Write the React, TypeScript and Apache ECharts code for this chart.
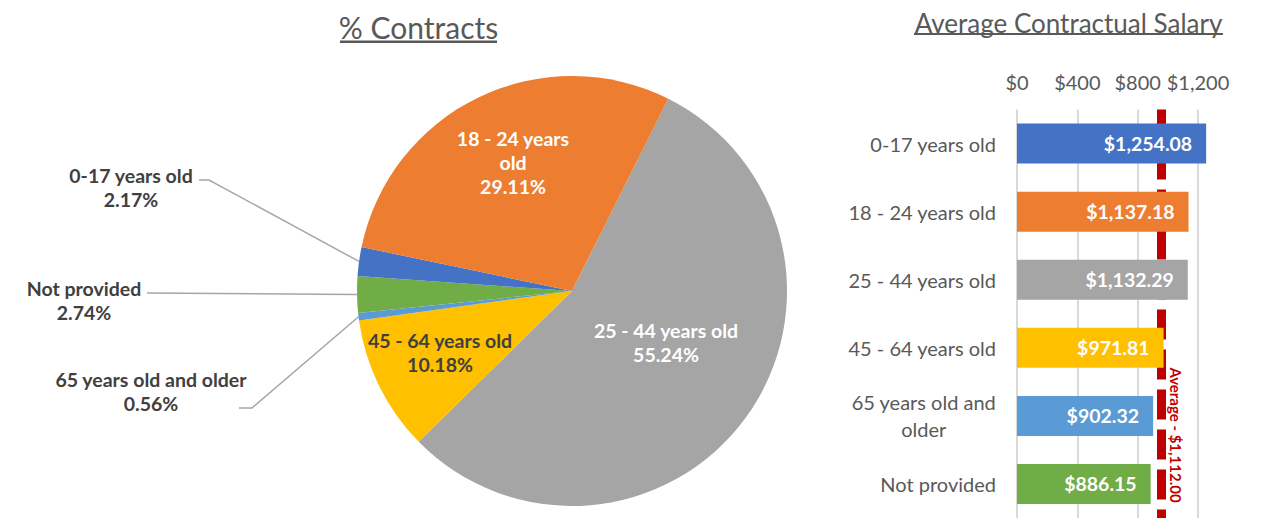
import React, { useEffect, useRef } from 'react';
import * as echarts from 'echarts';

// ---------- Data ----------
// Pie (% Contracts), in clockwise drawing order starting at the orange/gray edge
const pieCategories = [
  '25 - 44 years old',
  '45 - 64 years old',
  '65 years old and older',
  'Not provided',
  '0-17 years old',
  '18 - 24 years old',
];
const pieValues = [55.24, 10.18, 0.56, 2.74, 2.17, 29.11];
const pieColors = ['#A5A5A5', '#FFC000', '#5B9BD5', '#70AD47', '#4472C4', '#ED7D31'];

// Bars (Average Contractual Salary)
const barCategories = [
  '0-17 years old',
  '18 - 24 years old',
  '25 - 44 years old',
  '45 - 64 years old',
  '65 years old and older',
  'Not provided',
];
const barValues = [1254.08, 1137.18, 1132.29, 971.81, 902.32, 886.15];
const barColors = ['#4472C4', '#ED7D31', '#A5A5A5', '#FFC000', '#5B9BD5', '#70AD47'];
const averageSalary = 1112.0;
const salaryAxisMin = 0;
const salaryAxisMax = 1200;
const salaryAxisInterval = 400;
const averageAxisMax = 1400; // secondary (hidden) axis used by the average line

// ---------- Label layout (presentation only) ----------
const pieLabelText: Record<string, string> = {
  '18 - 24 years old': '18 - 24 years\nold',
};
const insideLabels: Record<string, string> = {
  '25 - 44 years old': '#FFFFFF',
  '45 - 64 years old': '#404040',
  '18 - 24 years old': '#FFFFFF',
};
const pieLabelPlacement: Record<string, { x: number; y: number; bend?: number[][] }> = {
  '25 - 44 years old': { x: 666, y: 342 },
  '45 - 64 years old': { x: 440, y: 352 },
  '18 - 24 years old': { x: 513, y: 162 },
  '0-17 years old': { x: 131, y: 187, bend: [[209, 180], [199, 180]] },
  'Not provided': { x: 84, y: 300, bend: [[147, 293]] },
  '65 years old and older': { x: 151, y: 391, bend: [[252, 408], [239, 408]] },
};
const barLabelWrap: Record<string, string[]> = {
  '65 years old and older': ['65 years old and', 'older'],
};

const FONT = 'Lato';
const money = (v: number, digits = 0) =>
  '$' + v.toLocaleString('en-US', { minimumFractionDigits: digits, maximumFractionDigits: digits });

export default function App() {
  const ref = useRef<HTMLDivElement>(null);

  useEffect(() => {
    if (!ref.current) return;
    const chart = echarts.init(ref.current, undefined, { renderer: 'svg' });

    const option: any = {
      animation: false,
      backgroundColor: '#FFFFFF',
      textStyle: { fontFamily: FONT },
      graphic: [
        {
          type: 'text',
          x: 418.5,
          y: 27,
          style: {
            text: '% Contracts',
            fill: '#595959',
            font: `30px ${FONT}`,
            align: 'center',
            verticalAlign: 'middle',
          },
        },
        {
          type: 'rect',
          shape: { x: 340, y: 40.5, width: 157, height: 2.5 },
          style: { fill: '#595959' },
        },
        {
          type: 'text',
          x: 1068.5,
          y: 23,
          style: {
            text: 'Average Contractual Salary',
            fill: '#595959',
            font: `26px ${FONT}`,
            align: 'center',
            verticalAlign: 'middle',
          },
        },
        {
          type: 'rect',
          shape: { x: 914, y: 33, width: 309, height: 2 },
          style: { fill: '#595959' },
        },
        {
          type: 'text',
          x: 1176,
          y: 435,
          rotation: -Math.PI / 2,
          z: 20,
          style: {
            text: 'Average - ' + money(averageSalary, 2),
            fill: '#C00000',
            font: `bold 15px ${FONT}`,
            align: 'center',
            verticalAlign: 'middle',
          },
        },
      ],
      grid: { left: 1017, top: 109.5, width: 181, height: 411, containLabel: false },
      xAxis: [
        {
          type: 'value',
          position: 'top',
          min: salaryAxisMin,
          max: salaryAxisMax,
          interval: salaryAxisInterval,
          axisLine: { show: false },
          axisTick: { show: false },
          splitLine: { lineStyle: { color: '#D9D9D9', width: 2 } },
          axisLabel: {
            formatter: (v: number) => money(v),
            color: '#595959',
            fontSize: 20,
            fontFamily: FONT,
            margin: 18,
          },
        },
        {
          type: 'value',
          min: 0,
          max: averageAxisMax,
          show: false,
        },
      ],
      yAxis: {
        type: 'category',
        data: barCategories,
        inverse: true,
        axisLine: { show: false },
        axisTick: { show: false },
        splitLine: { show: false },
        axisLabel: {
          color: '#595959',
          fontSize: 20,
          fontFamily: FONT,
          margin: 21,
          lineHeight: 27,
          formatter: (v: string) => {
            const lines = barLabelWrap[v];
            if (!lines) return v;
            return lines.map((l) => `{c|${l}}`).join('\n');
          },
          rich: {
            c: { align: 'center', fontSize: 20, fontFamily: FONT, color: '#595959', lineHeight: 27 },
          },
        },
      },
      series: [
        {
          type: 'pie',
          center: [572, 291],
          radius: 215,
          startAngle: 63.4,
          clockwise: true,
          avoidLabelOverlap: false,
          emphasis: { disabled: true },
          label: {
            show: true,
            position: 'outside',
            fontFamily: FONT,
            fontWeight: 'bold',
            fontSize: 19.5,
            lineHeight: 24,
            color: '#404040',
            formatter: (p: any) =>
              `${pieLabelText[p.name] || p.name}\n${Number(p.percent).toFixed(2)}%`,
          },
          labelLine: {
            show: true,
            length: 10,
            length2: 10,
            lineStyle: { color: '#A6A6A6', width: 1.5 },
          },
          labelLayout: (params: any) => {
            const name = pieCategories[params.dataIndex];
            const pl = pieLabelPlacement[name];
            if (!pl) return {};
            const res: any = { x: pl.x, y: pl.y, align: 'center', verticalAlign: 'middle' };
            if (pl.bend && params.labelLinePoints && params.labelLinePoints.length) {
              res.labelLinePoints = [params.labelLinePoints[0], ...pl.bend];
            }
            return res;
          },
          data: pieCategories.map((name, i) => {
            const inside = insideLabels[name];
            return {
              name,
              value: pieValues[i],
              itemStyle: { color: pieColors[i] },
              label: inside ? { position: 'inside', color: inside } : undefined,
              labelLine: inside ? { show: false } : undefined,
            };
          }),
        },
        {
          type: 'line',
          xAxisIndex: 1,
          yAxisIndex: 0,
          data: [],
          z: 1,
          markLine: {
            silent: true,
            z: 1,
            symbol: ['none', 'none'],
            label: { show: false },
            lineStyle: { color: '#C00000', width: 9, type: [30, 10], cap: 'butt' },
            data: [{ xAxis: averageSalary }],
          },
        },
        {
          type: 'bar',
          xAxisIndex: 0,
          yAxisIndex: 0,
          z: 3,
          barWidth: 40,
          clip: false,
          data: barValues.map((v, i) => ({ value: v, itemStyle: { color: barColors[i] } })),
          label: {
            show: true,
            position: 'insideRight',
            distance: 14,
            color: '#FFFFFF',
            fontWeight: 'bold',
            fontSize: 19.5,
            fontFamily: FONT,
            formatter: (p: any) => money(p.value, 2),
          },
        },
      ],
    };

    chart.setOption(option);
    return () => chart.dispose();
  }, []);

  return (
    <div
      ref={ref}
      style={{ position: 'fixed', left: 0, top: 0, width: 1263, height: 518, background: '#FFFFFF' }}
    />
  );
}
